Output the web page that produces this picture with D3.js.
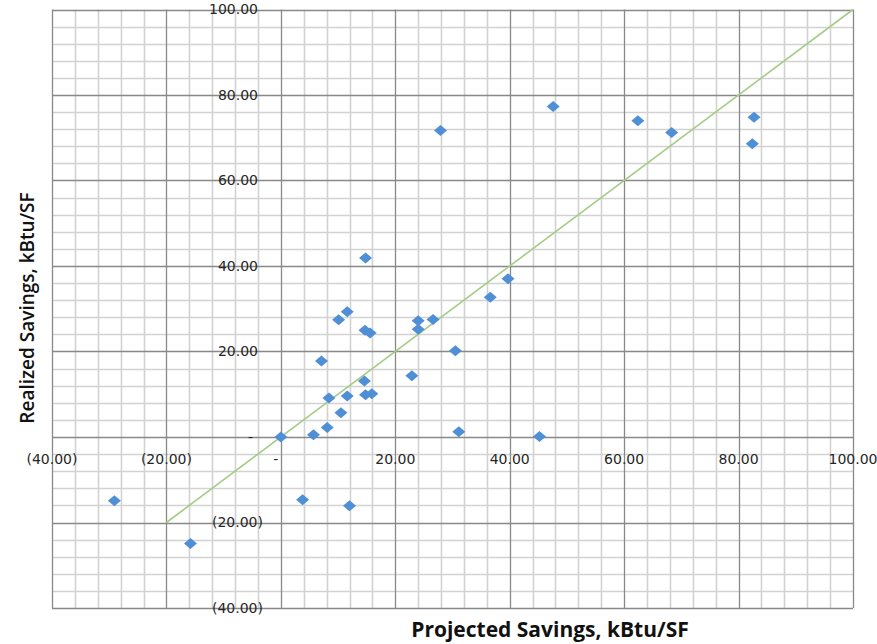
<!DOCTYPE html>
<html>
<head>
<meta charset="utf-8">
<script src="https://cdn.jsdelivr.net/npm/d3@7"></script>
<style>
  body { margin: 0; background: #fff; }
  svg { display: block; }
</style>
</head>
<body>
<script>
// projected vs realized savings (kBtu/SF)
var projected = [-29.1, -15.8, 3.8, 12.0, 0.0, 5.7, 8.1, 10.5, 8.4, 11.6, 14.8, 15.9,
  14.6, 7.1, 10.1, 11.6, 14.7, 15.6, 14.8, 22.9, 24.0, 24.0, 26.6, 30.5, 31.1,
  27.9, 36.6, 39.7, 45.2, 47.6, 62.4, 68.3, 82.7, 82.4];
var realized = [-14.9, -24.9, -14.7, -16.1, 0.0, 0.5, 2.2, 5.7, 9.1, 9.6, 9.9, 10.1,
  13.1, 17.8, 27.4, 29.3, 25.0, 24.3, 41.9, 14.3, 27.2, 25.2, 27.5, 20.2, 1.2,
  71.7, 32.7, 37.0, 0.1, 77.3, 74.0, 71.2, 74.8, 68.6];
// reference 1:1 line
var lineX = [-20, 100];
var lineY = [-20, 100];
var ticks = [-40, -20, 0, 20, 40, 60, 80, 100];

var svg = d3.select("body").append("svg")
  .attr("width", 877)
  .attr("height", 644);

var x = d3.scaleLinear().domain([-40, 100]).range([52, 853]);
var y = d3.scaleLinear().domain([-40, 100]).range([608, 9.5]);

function fmt(v) {
  if (v === 0) return "-";
  if (v < 0) return "(" + d3.format(".2f")(-v) + ")";
  return d3.format(".2f")(v);
}

// minor grid every 4, major every 20
var minor = d3.range(-40, 101, 4).filter(function(v) { return v % 20 !== 0; });
var grid = svg.append("g");
grid.selectAll(".vminor").data(minor).enter().append("line")
  .attr("x1", function(d) { return Math.round(x(d)) + 0.5; })
  .attr("x2", function(d) { return Math.round(x(d)) + 0.5; })
  .attr("y1", y(100)).attr("y2", y(-40))
  .attr("stroke", "#d2d2d2").attr("stroke-width", 1.6);
grid.selectAll(".hminor").data(minor).enter().append("line")
  .attr("y1", function(d) { return Math.round(y(d)) + 0.5; })
  .attr("y2", function(d) { return Math.round(y(d)) + 0.5; })
  .attr("x1", x(-40)).attr("x2", x(100))
  .attr("stroke", "#d2d2d2").attr("stroke-width", 1.6);
grid.selectAll(".vmajor").data(ticks).enter().append("line")
  .attr("x1", function(d) { return Math.round(x(d)) + 0.5; })
  .attr("x2", function(d) { return Math.round(x(d)) + 0.5; })
  .attr("y1", y(100)).attr("y2", y(-40))
  .attr("stroke", "#898989").attr("stroke-width", 1.3);
grid.selectAll(".hmajor").data(ticks).enter().append("line")
  .attr("y1", function(d) { return Math.round(y(d)) + 0.5; })
  .attr("y2", function(d) { return Math.round(y(d)) + 0.5; })
  .attr("x1", x(-40)).attr("x2", x(100))
  .attr("stroke", "#898989").attr("stroke-width", 1.3);

// 1:1 line
var line = d3.line()
  .x(function(d) { return x(d[0]); })
  .y(function(d) { return y(d[1]); });
svg.append("path")
  .datum(d3.zip(lineX, lineY))
  .attr("d", line)
  .attr("fill", "none")
  .attr("stroke", "#a3cc86")
  .attr("stroke-width", 1.6);

// points
var pts = d3.zip(projected, realized);
svg.append("g").selectAll("path")
  .data(pts)
  .enter().append("path")
    .attr("transform", function(d) { return "translate(" + x(d[0]) + "," + y(d[1]) + ")"; })
    .attr("d", "M0,-5.5L6.5,0L0,5.5L-6.5,0Z")
    .attr("fill", "#4f8fd6");

// tick labels
var labels = svg.append("g")
  .attr("font-family", "DejaVu Sans, Verdana, sans-serif")
  .attr("font-size", "14px")
  .attr("fill", "#262626");

labels.selectAll(".xl").data(ticks).enter().append("text")
  .attr("x", function(d) { return d === 0 ? x(0) - 5 : x(d); })
  .attr("y", y(0) + 22)
  .attr("dy", "0.35em")
  .attr("text-anchor", "middle")
  .text(fmt);

labels.selectAll(".yl").data(ticks).enter().append("text")
  .attr("x", function(d) { return d === 0 ? 253 : d < 0 ? 263 : 258; })
  .attr("y", function(d) { return y(d); })
  .attr("dy", "0.35em")
  .attr("text-anchor", "end")
  .text(fmt);

// axis titles
svg.append("text")
  .attr("transform", "translate(34,308) rotate(-90)")
  .attr("text-anchor", "middle")
  .attr("font-family", "Open Sans, sans-serif")
  .attr("font-size", "19px")
  .attr("font-weight", 600)
  .attr("fill", "#111")
  .text("Realized Savings, kBtu/SF");

svg.append("text")
  .attr("x", 550)
  .attr("y", 637)
  .attr("text-anchor", "middle")
  .attr("font-family", "Open Sans, sans-serif")
  .attr("font-size", "21px")
  .attr("font-weight", "bold")
  .attr("fill", "#111")
  .text("Projected Savings, kBtu/SF");
</script>
</body>
</html>
